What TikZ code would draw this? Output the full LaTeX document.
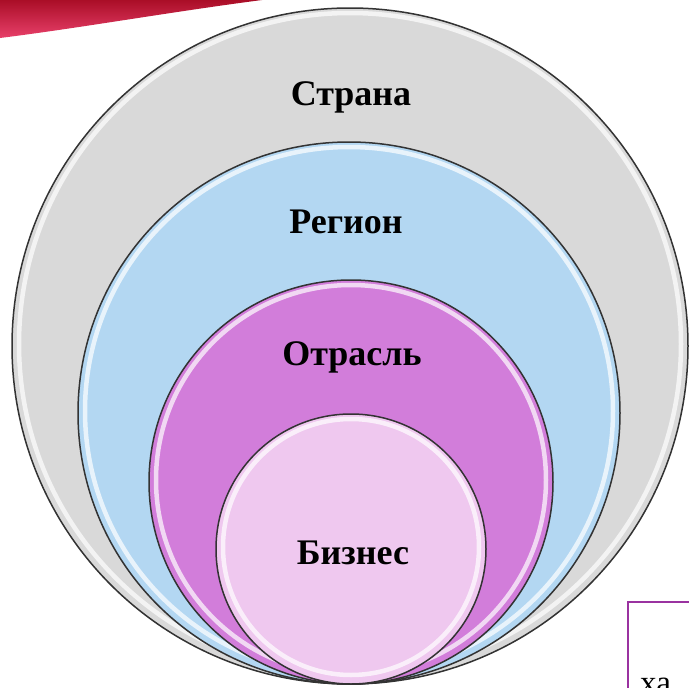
\documentclass[tikz,border=0pt]{standalone}
\usepackage{fontspec}
\setmainfont{Liberation Serif}
\definecolor{ringline}{HTML}{333333}
\definecolor{cgray}{HTML}{D9D9D9}
\definecolor{cblue}{HTML}{B3D7F2}
\definecolor{cviolet}{HTML}{D27DDA}
\definecolor{cpink}{HTML}{EFC8EF}
\definecolor{bandred}{HTML}{C8102E}
\definecolor{bandlight}{HTML}{E8406A}
\definecolor{boxpurple}{HTML}{9A32A0}
\tikzset{
  disc/.style={draw=ringline, line width=1.5pt},
  glow/.style={draw=white, line width=4.5pt, opacity=0.7},
  lbl/.style={font=\fontsize{36}{40}\selectfont\bfseries, text=black, inner sep=0pt}
}
\begin{document}
\begin{tikzpicture}[x=1pt,y=-1pt]
\useasboundingbox (0,0) rectangle (689,688);
\clip (0,0) rectangle (689,688);
\fill[white] (0,0) rectangle (689,688);
% red band
\shade[top color=bandred!85!black, bottom color=bandlight, shading angle=0]
  (0,0) -- (262,0) .. controls (170,12) and (80,28) .. (0,38) -- cycle;
% circles
\path[disc, fill=cgray] (350,346) circle[radius=338pt];
\draw[glow] (350,344) circle[radius=331pt];
\path[disc, fill=cblue] (349,413) circle[radius=271pt];
\draw[glow] (349,411) circle[radius=264pt];
\path[disc, fill=cviolet] (351,482) circle[radius=202pt];
\draw[glow] (351,480) circle[radius=195pt];
\path[disc, fill=cpink] (351,549) circle[radius=135pt];
\draw[glow] (351,547) circle[radius=128pt];
% labels
\node[lbl] (strana) at (351,97) {Страна};
\node[lbl] (region) at (346,222) {Регион};
\node[lbl] (otrasl) at (352,357) {Отрасль};
\node[lbl] (biznes) at (353,553) {Бизнес};
% box bottom right
\draw[boxpurple, line width=1.6pt] (628,602) rectangle (720,720);
\node[font=\fontsize{33}{36}\selectfont, anchor=base west, inner sep=0pt] (xa) at (640,693) {ха};
\end{tikzpicture}
\end{document}
